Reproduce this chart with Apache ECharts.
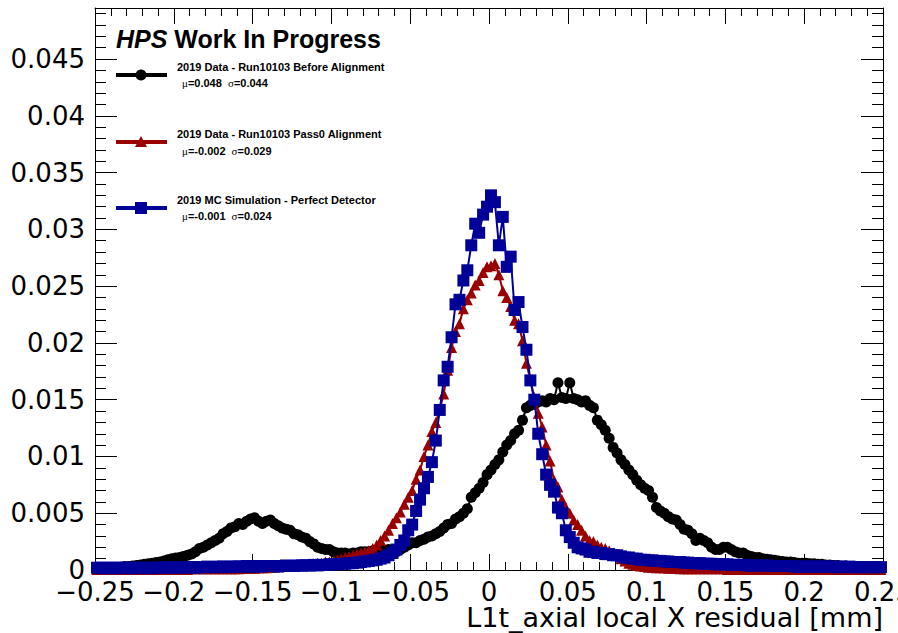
<!DOCTYPE html>
<html>
<head>
<meta charset="utf-8">
<script src="https://cdn.jsdelivr.net/npm/echarts@6/dist/echarts.min.js"></script>
<style>
  html, body { margin: 0; padding: 0; background: #ffffff; }
  #chart { width: 898px; height: 633px; }
</style>
</head>
<body>
<div id="chart"></div>
<script>
// Histogram binning of the residual (mm): 200 bins over [-0.25, 0.25]
const binLow = -0.25;
const binWidth = 0.0025;
const nBins = 200;
const binCenters = Array.from({ length: nBins }, (_, i) => +(binLow + (i + 0.5) * binWidth).toFixed(6));

// Normalised bin contents (in units of 1e-3), 2019 data run 10103 before alignment
const beforeAlignment = [
  0.1, 0.15, 0.15, 0.2, 0.2, 0.2, 0.25, 0.3, 0.3, 0.35,
  0.4, 0.45, 0.5, 0.55, 0.6, 0.65, 0.7, 0.8, 0.9, 1.0,
  1.05, 1.1, 1.2, 1.3, 1.4, 1.6, 1.9, 2.0, 2.2, 2.4,
  2.6, 2.8, 3.2, 3.4, 3.7, 3.8, 4.1, 4.0, 4.3, 4.5,
  4.6, 4.3, 4.1, 4.3, 4.4, 4.1, 3.9, 3.7, 3.6, 3.5,
  3.2, 3.1, 2.9, 2.8, 2.5, 2.3, 2.0, 1.9, 1.8, 1.8,
  1.6, 1.5, 1.5, 1.5, 1.4, 1.5, 1.5, 1.6, 1.6, 1.6,
  1.7, 1.7, 1.6, 1.7, 1.8, 1.7, 1.6, 1.8, 2.0, 2.2,
  2.4, 2.4, 2.6, 2.7, 2.9, 3.0, 3.2, 3.4, 3.7, 4.0,
  4.1, 4.5, 4.7, 5.0, 5.4, 6.4, 6.8, 7.2, 7.7, 8.4,
  8.8, 9.3, 9.7, 10.4, 11.0, 11.4, 12.0, 12.3, 13.2, 14.3,
  14.5, 14.6, 14.8, 14.9, 14.8, 15.1, 15.0, 16.5, 15.2, 15.1,
  16.5, 15.1, 15.0, 14.8, 14.9, 14.5, 14.3, 13.2, 12.8, 12.3,
  11.6, 10.8, 10.3, 9.7, 9.3, 8.8, 8.4, 7.9, 7.5, 7.2,
  7.0, 6.4, 5.5, 5.2, 5.0, 4.7, 4.5, 4.4, 4.0, 3.6,
  3.5, 3.2, 2.6, 2.8, 2.6, 2.4, 2.0, 1.8, 1.8, 2.0,
  2.0, 1.8, 1.6, 1.5, 1.5, 1.3, 1.2, 1.1, 1.1, 1.0,
  0.95, 0.9, 0.85, 0.8, 0.75, 0.7, 0.7, 0.65, 0.6, 0.6,
  0.6, 0.55, 0.55, 0.5, 0.5, 0.45, 0.45, 0.4, 0.4, 0.35,
  0.35, 0.3, 0.3, 0.3, 0.25, 0.25, 0.25, 0.2, 0.2, 0.2
];

// Normalised bin contents (in units of 1e-3), 2019 data run 10103 after Pass0 alignment
const pass0Alignment = [
  0.05, 0.05, 0.05, 0.05, 0.05, 0.05, 0.05, 0.05, 0.05, 0.05,
  0.05, 0.05, 0.05, 0.05, 0.05, 0.05, 0.05, 0.05, 0.05, 0.05,
  0.05, 0.05, 0.05, 0.05, 0.1, 0.1, 0.1, 0.1, 0.1, 0.1,
  0.1, 0.1, 0.1, 0.1, 0.1, 0.1, 0.1, 0.15, 0.15, 0.15,
  0.15, 0.2, 0.2, 0.2, 0.25, 0.25, 0.3, 0.3, 0.3, 0.35,
  0.35, 0.4, 0.45, 0.45, 0.5, 0.55, 0.6, 0.6, 0.7, 0.7,
  0.8, 0.9, 1.0, 1.1, 1.2, 1.3, 1.4, 1.5, 1.6, 1.7,
  1.9, 2.2, 2.6, 3.0, 3.5, 4.1, 4.6, 5.1, 5.8, 6.4,
  7.0, 8.0, 8.8, 10.0, 11.0, 12.2, 13.0, 14.1, 15.5, 17.6,
  19.6, 21.0, 21.7, 23.0, 23.8, 24.4, 25.1, 25.5, 26.2, 26.7,
  26.8, 27.0, 26.0, 24.6, 24.0, 23.2, 22.0, 21.7, 20.2, 18.2,
  16.7, 15.2, 13.8, 12.6, 11.0, 9.6, 7.9, 7.3, 6.2, 5.5,
  5.0, 4.4, 4.0, 3.5, 3.0, 2.6, 2.5, 2.2, 2.0, 1.9,
  1.7, 1.5, 1.3, 1.0, 0.8, 0.6, 0.5, 0.4, 0.35, 0.3,
  0.25, 0.25, 0.2, 0.2, 0.2, 0.15, 0.15, 0.15, 0.1, 0.1,
  0.1, 0.1, 0.1, 0.1, 0.1, 0.1, 0.1, 0.1, 0.1, 0.1,
  0.05, 0.05, 0.05, 0.05, 0.05, 0.05, 0.05, 0.05, 0.05, 0.05,
  0.05, 0.05, 0.05, 0.05, 0.05, 0.05, 0.05, 0.05, 0.05, 0.05,
  0.05, 0.05, 0.05, 0.05, 0.05, 0.05, 0.05, 0.05, 0.05, 0.05,
  0.05, 0.05, 0.05, 0.05, 0.05, 0.05, 0.05, 0.05, 0.05, 0.05
];

// Normalised bin contents (in units of 1e-3), 2019 MC simulation with a perfect detector
const mcPerfect = [
  0.2, 0.2, 0.15, 0.2, 0.2, 0.15, 0.2, 0.2, 0.2, 0.15,
  0.2, 0.2, 0.2, 0.15, 0.2, 0.2, 0.2, 0.2, 0.25, 0.2,
  0.2, 0.25, 0.2, 0.25, 0.25, 0.2, 0.25, 0.25, 0.3, 0.25,
  0.25, 0.3, 0.3, 0.25, 0.3, 0.3, 0.3, 0.3, 0.35, 0.3,
  0.3, 0.35, 0.3, 0.35, 0.35, 0.35, 0.3, 0.35, 0.4, 0.35,
  0.35, 0.4, 0.4, 0.4, 0.4, 0.45, 0.4, 0.45, 0.45, 0.5,
  0.5, 0.5, 0.55, 0.55, 0.6, 0.6, 0.65, 0.7, 0.75, 0.8,
  0.85, 0.9, 1.0, 1.1, 1.3, 1.5, 1.8, 2.2, 2.6, 3.5,
  4.0, 5.2, 6.2, 7.2, 8.2, 9.5, 11.4, 14.1, 16.7, 17.9,
  20.5, 23.4, 23.8, 25.5, 26.4, 28.6, 30.5, 29.7, 31.3, 32.0,
  33.0, 32.4, 28.6, 31.1, 26.7, 27.6, 22.9, 23.6, 21.4, 19.4,
  16.7, 15.0, 12.0, 10.2, 8.4, 7.5, 6.9, 5.5, 5.0, 3.5,
  2.9, 2.4, 2.0, 1.9, 1.8, 1.6, 1.6, 1.5, 1.5, 1.4,
  1.4, 1.3, 1.3, 1.2, 1.1, 1.1, 1.0, 1.0, 0.9, 0.9,
  0.85, 0.85, 0.8, 0.8, 0.75, 0.75, 0.7, 0.7, 0.7, 0.65,
  0.65, 0.6, 0.6, 0.6, 0.55, 0.55, 0.55, 0.5, 0.5, 0.5,
  0.5, 0.45, 0.45, 0.45, 0.45, 0.4, 0.4, 0.4, 0.4, 0.4,
  0.4, 0.35, 0.35, 0.35, 0.35, 0.35, 0.35, 0.3, 0.3, 0.3,
  0.3, 0.3, 0.3, 0.3, 0.3, 0.3, 0.3, 0.3, 0.25, 0.3,
  0.25, 0.3, 0.25, 0.25, 0.25, 0.25, 0.25, 0.25, 0.25, 0.25
];
const valueUnit = 1e-3;

// Axis ranges and tick labels
const xMin = -0.25, xMax = 0.25, xStep = 0.05;
const yMin = 0, yMax = 0.0495, yStep = 0.005;
const xTickLabels = ['\u22120.25', '\u22120.2', '\u22120.15', '\u22120.1', '\u22120.05', '0', '0.05', '0.1', '0.15', '0.2', '0.25'];
const yTickLabels = ['0', '0.005', '0.01', '0.015', '0.02', '0.025', '0.03', '0.035', '0.04', '0.045'];
const xTitle = 'L1t_axial local X residual [mm]';

// Legend entries
const seriesNames = [
  '2019 Data - Run10103 Before Alignment',
  '2019 Data - Run10103 Pass0 Alignment',
  '2019 MC Simulation - Perfect Detector'
];
const seriesMu = ['0.048', '-0.002', '-0.001'];
const seriesSigma = ['0.044', '0.029', '0.024'];
const seriesColors = ['#000000', '#990000', '#000099'];

const textFont = 'Liberation Sans, Helvetica, Arial, sans-serif';
const axisFont = 'DejaVu Sans, Liberation Sans, sans-serif';

function xLabel(v) {
  const k = Math.round((v - xMin) / xStep);
  return Math.abs(xMin + k * xStep - v) < 1e-6 ? (xTickLabels[k] || '') : '';
}
function yLabel(v) {
  const k = Math.round((v - yMin) / yStep);
  return Math.abs(yMin + k * yStep - v) < 1e-7 ? (yTickLabels[k] || '') : '';
}

const frameLine = { show: true, onZero: false, lineStyle: { color: '#000', width: 1 } };

function xAxisDef(position, withLabels) {
  return {
    type: 'value', position, min: xMin, max: xMax, interval: xStep,
    axisLine: frameLine,
    axisTick: { show: true, inside: true, length: 16, lineStyle: { color: '#000', width: 1 } },
    minorTick: { show: true, splitNumber: 5, length: 8, lineStyle: { color: '#000', width: 1 } },
    splitLine: { show: false }, minorSplitLine: { show: false },
    axisLabel: withLabels ? {
      show: true, formatter: xLabel, color: '#000', fontSize: 26, fontFamily: axisFont,
      margin: 9, showMinLabel: true, showMaxLabel: true, hideOverlap: false,
      alignMinLabel: 'center', alignMaxLabel: 'center'
    } : { show: false }
  };
}
function yAxisDef(position, withLabels) {
  return {
    type: 'value', position, min: yMin, max: yMax, interval: yStep,
    axisLine: frameLine,
    axisTick: { show: true, inside: true, length: 22, lineStyle: { color: '#000', width: 1 } },
    minorTick: { show: true, splitNumber: 5, length: 11, lineStyle: { color: '#000', width: 1 } },
    splitLine: { show: false }, minorSplitLine: { show: false },
    axisLabel: withLabels ? {
      show: true, formatter: yLabel, color: '#000', fontSize: 26, fontFamily: axisFont,
      margin: 10, showMinLabel: true, showMaxLabel: true, hideOverlap: false
    } : { show: false }
  };
}

const seriesData = [beforeAlignment, pass0Alignment, mcPerfect];
const seriesSymbols = ['circle', 'triangle', 'rect'];
const seriesSymbolSizes = [11, 11, 12];

const series = seriesData.map((vals, s) => ({
  name: seriesNames[s],
  type: 'line',
  xAxisIndex: 0, yAxisIndex: 0,
  data: binCenters.map((x, i) => [x, vals[i] * valueUnit]),
  symbol: seriesSymbols[s],
  symbolSize: seriesSymbolSizes[s],
  showSymbol: true,
  showAllSymbol: true,
  smooth: false,
  clip: true,
  animation: false,
  lineStyle: { color: seriesColors[s], width: 2 },
  itemStyle: { color: seriesColors[s], borderWidth: 0 },
  emphasis: { disabled: true },
  z: 2 + s
}));

// Legend block, caption and axis title
const legendRows = [75, 142, 208];
const graphic = [
  {
    type: 'text', x: 116, y: 39,
    style: {
      text: '{a|HPS}{b| Work In Progress}',
      verticalAlign: 'middle', textVerticalAlign: 'middle',
      rich: {
        a: { fontFamily: textFont, fontWeight: 'bold', fontStyle: 'italic', fontSize: 25, fill: '#000' },
        b: { fontFamily: textFont, fontWeight: 'bold', fontSize: 25, fill: '#000' }
      }
    }
  },
  {
    type: 'text', x: 883, y: 617,
    style: {
      text: xTitle,
      fill: '#000', font: '27px ' + axisFont,
      align: 'right', textAlign: 'right', verticalAlign: 'middle', textVerticalAlign: 'middle'
    }
  }
];
legendRows.forEach((yRow, s) => {
  const c = seriesColors[s];
  graphic.push({ type: 'line', shape: { x1: 116, y1: yRow, x2: 167, y2: yRow }, style: { stroke: c, lineWidth: 4 } });
  if (s === 0) {
    graphic.push({ type: 'circle', shape: { cx: 141, cy: yRow, r: 5.5 }, style: { fill: c } });
  } else if (s === 1) {
    graphic.push({ type: 'polygon', shape: { points: [[141, yRow - 6], [135, yRow + 5], [147, yRow + 5]] }, style: { fill: c } });
  } else {
    graphic.push({ type: 'rect', shape: { x: 135, y: yRow - 6, width: 12, height: 12 }, style: { fill: c } });
  }
  graphic.push({
    type: 'text', x: 177, y: yRow - 8,
    style: {
      text: seriesNames[s], fill: '#000', font: 'bold 11px ' + textFont,
      verticalAlign: 'middle', textVerticalAlign: 'middle'
    }
  });
  graphic.push({
    type: 'text', x: 182, y: yRow + 8 + (s === 1 ? 1 : 0),
    style: {
      text: '{g|\u03bc}{v|=' + seriesMu[s] + '  }{g|\u03c3}{v|=' + seriesSigma[s] + '}',
      verticalAlign: 'middle', textVerticalAlign: 'middle',
      rich: {
        g: { fontFamily: 'Liberation Serif, DejaVu Serif, serif', fontSize: 11, fill: '#000' },
        v: { fontFamily: textFont, fontWeight: 'bold', fontSize: 11, fill: '#000' }
      }
    }
  });
});

const chart = echarts.init(document.getElementById('chart'), null, { renderer: 'svg', width: 898, height: 633 });
chart.setOption({
  animation: false,
  backgroundColor: '#ffffff',
  grid: { left: 95, right: 15, top: 8, bottom: 63, containLabel: false, outerBoundsMode: 'none' },
  xAxis: [xAxisDef('bottom', true), xAxisDef('top', false)],
  yAxis: [yAxisDef('left', true), yAxisDef('right', false)],
  series: series,
  graphic: graphic
});
</script>
</body>
</html>
